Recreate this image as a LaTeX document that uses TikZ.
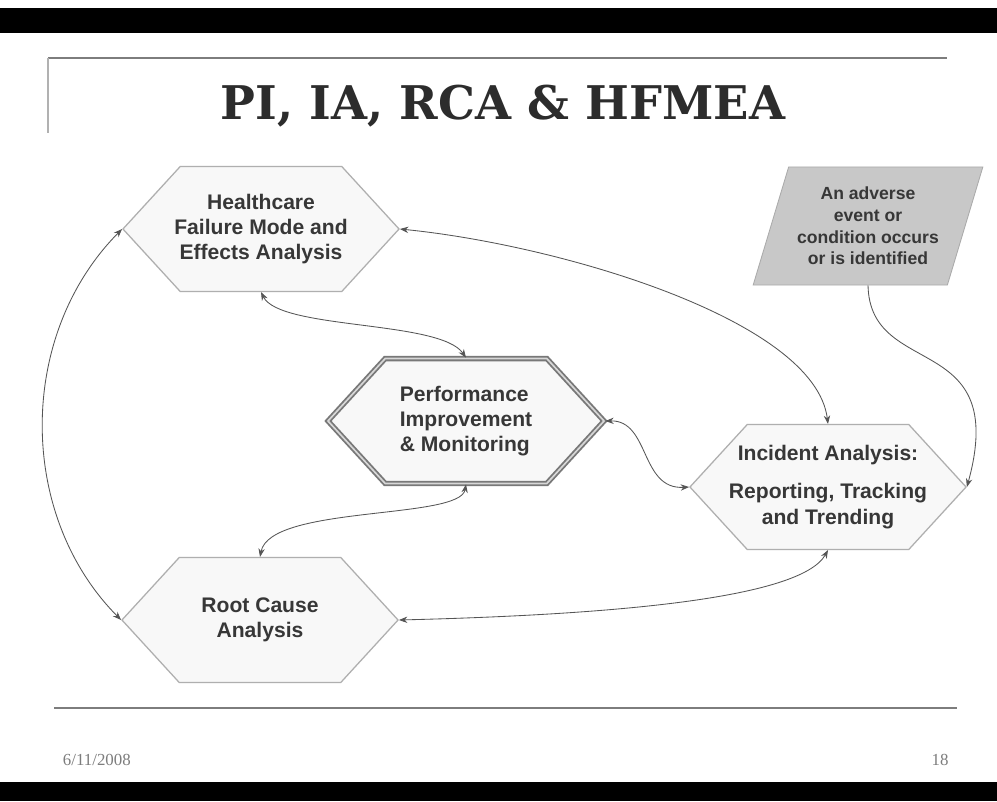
\documentclass[tikz,border=0pt]{standalone}
\usepackage{fontspec}
\setmainfont{Liberation Sans}
\newfontfamily\titlefont{DejaVu Serif}
\newfontfamily\footfont{Liberation Serif}
\usetikzlibrary{positioning}
\usetikzlibrary{shapes.symbols,shapes.geometric}
\usetikzlibrary{arrows.meta}

\begin{document}
\begin{tikzpicture}[
        x=0.025cm, y=-0.025cm,
        hexbox/.style={signal, signal to=west and east, signal pointer angle=95,
            draw=Hexline, fill=Hexfill, line width=0.9pt,
            minimum width=6.9cm, minimum height=3.12cm, inner ysep=0pt, inner xsep=-0.6cm,
            text=Txt, align=center, font=\bfseries\fontsize{15}{18}\selectfont},
        eventbox/.style={trapezium, trapezium left angle=68, trapezium right angle=112,
            trapezium stretches=true, draw=Eventline, fill=Eventfill, line width=0.6pt,
            minimum width=5.75cm, minimum height=2.95cm, inner sep=0pt,
            text=Txt, align=center, font=\bfseries\fontsize{12.5}{15.5}\selectfont},
        link/.style={draw=Linkcol, line width=0.6pt,
            {Stealth[length=6pt,width=4.5pt]}-{Stealth[length=6pt,width=4.5pt]}},
    ]
        \definecolor{Hexfill}{RGB}{248,248,248}
        \definecolor{Hexline}{RGB}{175,175,175}
        \definecolor{Txt}{RGB}{55,55,55}
        \definecolor{Linkcol}{RGB}{85,85,85}
        \definecolor{Eventfill}{RGB}{200,200,200}
        \definecolor{Eventline}{RGB}{170,170,170}
        \definecolor{Rulecol}{RGB}{125,125,125}
        \definecolor{Pioutline}{RGB}{120,120,120}
        \definecolor{Piinner}{RGB}{215,215,215}

        \useasboundingbox (0,0) rectangle (997,801);
        \fill[white] (0,0) rectangle (997,801);

        % Slide frame
        \fill[black] (0,8) rectangle (997,33);
        \fill[black] (0,782) rectangle (997,801);
        \draw[Rulecol, line width=1.4pt] (48,58) -- (947,58);
        \draw[Rulecol!60, line width=0.8pt] (48,58) -- (48,133);
        \draw[Rulecol, line width=1.4pt] (54,708) -- (957,708);
        \node[font=\titlefont\bfseries\fontsize{33}{40}\selectfont, text=Txt!80!black] (title) at (503,106) {PI, IA, RCA \& HFMEA};
        \node[font=\footfont\fontsize{12}{14}\selectfont, text=Rulecol, anchor=west] (date) at (58,760) {6/11/2008};
        \node[font=\footfont\fontsize{12}{14}\selectfont, text=Rulecol] (page) at (940,760) {18};

        % Boxes
        \node[hexbox] (hfmea) at (261,229) {Healthcare\\Failure Mode and\\Effects Analysis};
        \node[hexbox, align=left, draw=Pioutline, line width=1.3pt, double=Piinner, double distance=1.2pt] (pi) at (466,421) {Performance\\Improvement\\\& Monitoring};
        \node[hexbox] (incident) at (828,487) {Incident Analysis:\\[9pt]Reporting, Tracking\\and Trending};
        \node[hexbox] (rca) at (260,620) {Root Cause\\Analysis};
        \node[eventbox] (event) at (868,226) {An adverse\\event or\\condition occurs\\or is identified};

        % Links
        \draw[link] (hfmea.west) .. controls (17,335) and (17,515) .. (rca.west);
        \draw[link] (hfmea.east) .. controls (560,245) and (815,320) .. (incident.north);
        \draw[link] (hfmea.south) .. controls (280,330) and (440,320) .. (pi.north);
        \draw[link] (pi.east) .. controls (650,420) and (640,490) .. (incident.west);
        \draw[link] (pi.south) .. controls (460,520) and (270,505) .. (rca.north);
        \draw[link] (rca.east) .. controls (600,615) and (800,600) .. (incident.south);
        \draw[link, {-Stealth[length=6pt,width=4.5pt]}] (event.south) .. controls (870,380) and (1010,330) .. (incident.east);
    \end{tikzpicture}
\end{document}
